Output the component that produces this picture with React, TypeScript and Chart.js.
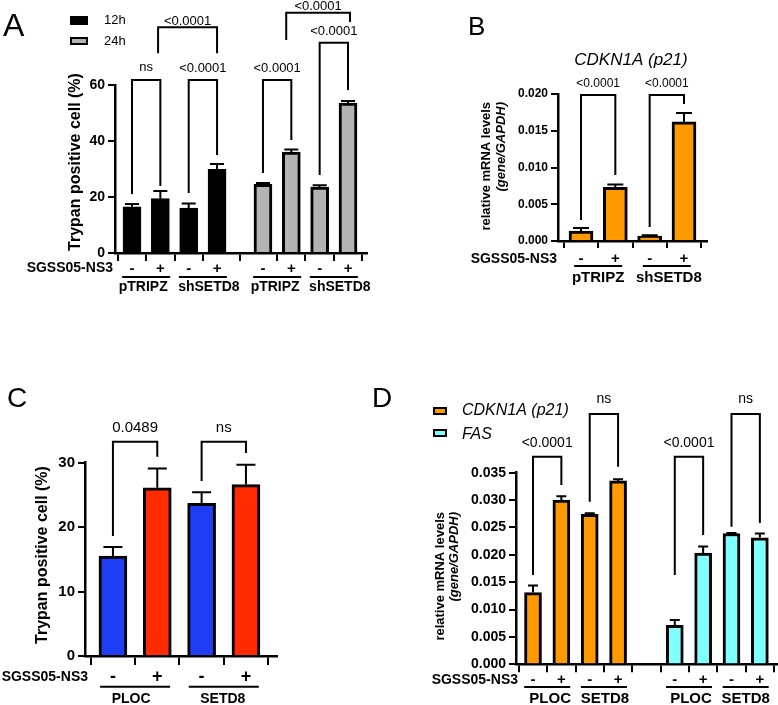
import React, { useEffect, useRef } from "react";
import { Chart, registerables } from "chart.js";

Chart.register(...registerables);

const SANS = "'Liberation Sans', Arial, Helvetica, sans-serif";
const font = (size: number, weight = "normal", style = "normal") => `${style} ${weight} ${size}px ${SANS}`;

const BLACK = "#000000";
const GREY = "#b3b3b3";
const ORANGE = "#ff9900";
const CYAN = "#80ffff";
const BLUE = "#1f3df2";
const RED = "#ff2a00";

// ---------- A: trypan blue positive cells, 12 h and 24 h ----------
const aSeriesNames = ["12h", "24h"];
const aGroupNames = ["pTRIPZ", "shSETD8", "pTRIPZ", "shSETD8"];
const aTreatment = ["-", "+", "-", "+", "-", "+", "-", "+"];
const a12hMean = [16.5, 19.4, 16.0, 29.9];
const a12hSem = [1.0, 2.7, 1.7, 1.9];
const a24hMean = [24.5, 36.0, 23.5, 53.5];
const a24hSem = [0.5, 1.0, 0.7, 0.8];
const aYTicks = [0, 20, 40, 60];
const aYTickLabels = ["0", "20", "40", "60"];
const aPValues = ["ns", "<0.0001", "<0.0001", "<0.0001", "<0.0001", "<0.0001"];

// ---------- B: CDKN1A (p21) mRNA ----------
const bGene = "CDKN1A (p21)";
const bGroupNames = ["pTRIPZ", "shSETD8"];
const bTreatment = ["-", "+", "-", "+"];
const bMean = [0.00136, 0.0073, 0.00068, 0.0162];
const bSem = [0.0004, 0.0004, 0.0001, 0.0012];
const bYTicks = [0, 0.005, 0.01, 0.015, 0.02];
const bYTickLabels = ["0.000", "0.005", "0.010", "0.015", "0.020"];
const bPValues = ["<0.0001", "<0.0001"];

// ---------- C: trypan blue positive cells, PLOC / SETD8 ----------
const cGroupNames = ["PLOC", "SETD8"];
const cTreatment = ["-", "+", "-", "+"];
const cMean = [15.5, 26.1, 23.7, 26.6];
const cSem = [1.4, 3.0, 1.7, 3.1];
const cYTicks = [0, 10, 20, 30];
const cYTickLabels = ["0", "10", "20", "30"];
const cPValues = ["0.0489", "ns"];

// ---------- D: CDKN1A (p21) and FAS mRNA ----------
const dSeriesNames = ["CDKN1A (p21)", "FAS"];
const dGroupNames = ["PLOC", "SETD8", "PLOC", "SETD8"];
const dTreatment = ["-", "+", "-", "+", "-", "+", "-", "+"];
const dCdkn1aMean = [0.0131, 0.03, 0.0274, 0.0335];
const dCdkn1aSem = [0.0013, 0.0007, 0.0002, 0.0003];
const dFasMean = [0.0071, 0.0203, 0.0239, 0.0231];
const dFasSem = [0.001, 0.0012, 0.0001, 0.0008];
const dYTicks = [0, 0.005, 0.01, 0.015, 0.02, 0.025, 0.03, 0.035];
const dYTickLabels = ["0.000", "0.005", "0.010", "0.015", "0.020", "0.025", "0.030", "0.035"];
const dPValues = ["<0.0001", "ns", "<0.0001", "ns"];

const AXIS_CAPTION = "SGSS05-NS3";
const Y_TRYPAN = "Trypan positive cell (%)";
const Y_MRNA = "relative mRNA levels";
const Y_MRNA_UNIT = "(gene/GAPDH)";

// ---------- drawing helpers ----------
function text(ctx: any, s: string, x: number, y: number, f: string, align = "center", baseline = "alphabetic") {
  ctx.save();
  ctx.fillStyle = BLACK;
  ctx.font = f;
  ctx.textAlign = align;
  ctx.textBaseline = baseline;
  ctx.fillText(s, x, y);
  ctx.restore();
}

function vtext(ctx: any, s: string, x: number, y: number, f: string, align = "center") {
  ctx.save();
  ctx.translate(x, y);
  ctx.rotate(-Math.PI / 2);
  ctx.fillStyle = BLACK;
  ctx.font = f;
  ctx.textAlign = align;
  ctx.textBaseline = "middle";
  ctx.fillText(s, 0, 0);
  ctx.restore();
}

function swatch(ctx: any, x: number, y: number, w: number, h: number, fill: string) {
  ctx.save();
  ctx.fillStyle = fill;
  ctx.fillRect(x, y, w, h);
  ctx.strokeStyle = BLACK;
  ctx.lineWidth = 2;
  ctx.strokeRect(x + 1, y + 1, w - 2, h - 2);
  ctx.restore();
}

type Row = {
  captionRight: number;
  y: number;
  captionFont: string;
  signFont: string;
  signs: string[];
  signSlots: number[];
  lineY: number;
  half: number;
  groups: number[][];
  names: string[];
  nameShift?: number[];
  groupY: number;
  groupFont: string;
};

function drawRow(ctx: any, px: (s: number) => number, row: Row) {
  text(ctx, AXIS_CAPTION, row.captionRight, row.y, row.captionFont, "right", "middle");
  row.signs.forEach((s, i) => text(ctx, s, px(row.signSlots[i]), row.y, row.signFont, "center", "middle"));
  ctx.save();
  ctx.strokeStyle = BLACK;
  ctx.lineWidth = 2;
  row.groups.forEach(([a, b], i) => {
    const c = (px(a) + px(b)) / 2;
    ctx.beginPath();
    ctx.moveTo(c - row.half, row.lineY);
    ctx.lineTo(c + row.half, row.lineY);
    ctx.stroke();
    const shift = row.nameShift ? row.nameShift[i] : 0;
    text(ctx, row.names[i], c + shift, row.groupY, row.groupFont, "center", "alphabetic");
  });
  ctx.restore();
}

type Bracket = { a: number; b: number; top: number; legA: number; legB: number; label: string; gap: number };

// ---------- panel specs ----------
const panelA = {
  box: { left: 0, top: 0, width: 390, height: 300 },
  area: { left: 115, top: 85, right: 367, bottom: 253 },
  slotPos: (s: number) => s + (s >= 3.5 ? 0.62 : 0),
  xMin: -0.6,
  xMax: 8.29,
  tickSlots: [0, 1, 2, 3, 4, 5, 6, 7],
  xTickLen: 8,
  yMax: 60,
  yTicks: aYTicks,
  yTickLabels: aYTickLabels,
  yTickFont: 14,
  barWidth: 18,
  capWidth: 14,
  series: [
    { name: aSeriesNames[0], slots: [0, 1, 2, 3], mean: a12hMean, err: a12hSem, fill: BLACK },
    { name: aSeriesNames[1], slots: [4, 5, 6, 7], mean: a24hMean, err: a24hSem, fill: GREY },
  ],
  bracketFont: font(13),
  brackets: [
    { a: 0, b: 1, top: 61.8, legA: 21.1, legB: 23.9, label: aPValues[0], gap: 9 },
    { a: 2, b: 3, top: 61.8, legA: 21.4, legB: 35.0, label: aPValues[1], gap: 8 },
    { a: 4, b: 5, top: 61.8, legA: 28.6, legB: 40.4, label: aPValues[2], gap: 8 },
    { a: 6, b: 7, top: 75.1, legA: 27.9, legB: 58.2, label: aPValues[3], gap: 8 },
    { a: 0.92, b: 3, top: 80.6, legA: 71.3, legB: 71.3, label: aPValues[4], gap: 2.5 },
    { a: 4.82, b: 7.07, top: 85.8, legA: 76.1, legB: 82.5, label: aPValues[5], gap: 3 },
  ] as Bracket[],
  decorate(ctx: any, px: (s: number) => number) {
    text(ctx, "A", 3, 36, font(32), "left");
    swatch(ctx, 70, 16, 18, 9, BLACK);
    swatch(ctx, 70, 37, 18, 8, GREY);
    text(ctx, aSeriesNames[0], 104, 20.5, font(13), "left", "middle");
    text(ctx, aSeriesNames[1], 104, 41.5, font(13), "left", "middle");
    vtext(ctx, Y_TRYPAN, 76, 162, font(16, "bold"));
    drawRow(ctx, px, {
      captionRight: 113, y: 268.5, captionFont: font(14, "bold"), signFont: font(15, "bold"),
      signs: aTreatment, signSlots: [0, 1, 2, 3, 4, 5, 6, 7],
      lineY: 277, half: 24, groups: [[0, 1], [2, 3], [4, 5], [6, 7]], names: aGroupNames,
      nameShift: [-3, 6, -2, 6],
      groupY: 291, groupFont: font(14, "bold"),
    });
  },
};

const panelB = {
  box: { left: 430, top: 0, width: 348, height: 300 },
  area: { left: 128, top: 94, right: 277, bottom: 241 },
  slotPos: (s: number) => s,
  xMin: -0.67,
  xMax: 3.67,
  tickSlots: [0, 1, 2, 3],
  xTickLen: 7,
  yMax: 0.02,
  yTicks: bYTicks,
  yTickLabels: bYTickLabels,
  yTickFont: 12,
  barWidth: 24,
  capWidth: 16,
  series: [{ name: bGene, slots: [0, 1, 2, 3], mean: bMean, err: bSem, fill: ORANGE }],
  bracketFont: font(12),
  brackets: [
    { a: 0, b: 1, top: 0.01986, legA: 0.00286, legB: 0.00898, label: bPValues[0], gap: 8 },
    { a: 2, b: 3, top: 0.01986, legA: 0.0019, legB: 0.01864, label: bPValues[1], gap: 8 },
  ] as Bracket[],
  decorate(ctx: any, px: (s: number) => number) {
    text(ctx, "B", 38, 35, font(26), "left");
    text(ctx, bGene, 201, 65, font(17, "normal", "italic"));
    vtext(ctx, Y_MRNA, 56, 102, font(13, "bold"), "right");
    vtext(ctx, Y_MRNA_UNIT, 71, 102, font(13, "bold", "italic"), "right");
    drawRow(ctx, px, {
      captionRight: 127, y: 259, captionFont: font(14, "bold"), signFont: font(15, "bold"),
      signs: bTreatment, signSlots: [0, 1, 2, 3],
      lineY: 266, half: 24, groups: [[0, 1], [2, 3]], names: bGroupNames,
      nameShift: [0, 2],
      groupY: 282, groupFont: font(15, "bold"),
    });
  },
};

const panelC = {
  box: { left: 0, top: 360, width: 390, height: 345 },
  area: { left: 85, top: 102.7, right: 277, bottom: 296 },
  slotPos: (s: number) => s,
  xMin: -0.63,
  xMax: 3.7,
  tickSlots: [0, 1, 2, 3],
  xTickLen: 9,
  yMax: 30,
  yTicks: cYTicks,
  yTickLabels: cYTickLabels,
  yTickFont: 15,
  barWidth: 28,
  capWidth: 19,
  series: [{ name: Y_TRYPAN, slots: [0, 1, 2, 3], mean: cMean, err: cSem, fill: [BLUE, RED, BLUE, RED] }],
  bracketFont: font(15),
  brackets: [
    { a: 0, b: 1, top: 33.26, legA: 18.62, legB: 30.93, label: cPValues[0], gap: 10 },
    { a: 2, b: 3, top: 33.26, legA: 27.16, legB: 31.5, label: cPValues[1], gap: 10 },
  ] as Bracket[],
  decorate(ctx: any, px: (s: number) => number) {
    text(ctx, "C", 7, 47, font(28), "left");
    vtext(ctx, Y_TRYPAN, 43, 195, font(16, "bold"));
    drawRow(ctx, px, {
      captionRight: 88, y: 317, captionFont: font(14, "bold"), signFont: font(18, "bold"),
      signs: cTreatment, signSlots: [0, 1, 2, 3],
      lineY: 326.7, half: 35, groups: [[0, 1], [2, 3]], names: cGroupNames,
      nameShift: [-4, -1],
      groupY: 343, groupFont: font(14, "bold"),
    });
  },
};

const panelD = {
  box: { left: 360, top: 360, width: 418, height: 345 },
  area: { left: 156, top: 112.7, right: 418, bottom: 304.3 },
  slotPos: (s: number) => s,
  xMin: -0.6,
  xMax: 8.64,
  tickSlots: [0, 1, 2, 3, 4, 5, 6, 7, 8],
  xTickLen: 8,
  yMax: 0.035,
  yTicks: dYTicks,
  yTickLabels: dYTickLabels,
  yTickFont: 14,
  barWidth: 17,
  capWidth: 10,
  series: [
    { name: dSeriesNames[0], slots: [0, 1, 2, 3], mean: dCdkn1aMean, err: dCdkn1aSem, fill: ORANGE },
    { name: dSeriesNames[1], slots: [5, 6, 7, 8], mean: dFasMean, err: dFasSem, fill: CYAN },
  ],
  bracketFont: font(14),
  brackets: [
    { a: 0, b: 1, top: 0.03793, legA: 0.01632, legB: 0.03276, label: dPValues[0], gap: 10 },
    { a: 2, b: 3, top: 0.04573, legA: 0.02971, legB: 0.0361, label: dPValues[1], gap: 11 },
    { a: 5, b: 6, top: 0.03793, legA: 0.01632, legB: 0.02362, label: dPValues[2], gap: 10 },
    { a: 7, b: 8, top: 0.04573, legA: 0.02514, legB: 0.02581, label: dPValues[3], gap: 11 },
  ] as Bracket[],
  decorate(ctx: any, px: (s: number) => number) {
    text(ctx, "D", 12, 47, font(28), "left");
    swatch(ctx, 73, 47, 14, 8, ORANGE);
    swatch(ctx, 73, 69, 14, 8, CYAN);
    text(ctx, dSeriesNames[0], 102, 50.5, font(16, "normal", "italic"), "left", "middle");
    text(ctx, dSeriesNames[1], 102, 75, font(16, "normal", "italic"), "left", "middle");
    vtext(ctx, Y_MRNA, 80, 152, font(13, "bold"), "right");
    vtext(ctx, Y_MRNA_UNIT, 94, 152, font(13, "bold", "italic"), "right");
    drawRow(ctx, px, {
      captionRight: 158, y: 320, captionFont: font(14, "bold"), signFont: font(15, "bold"),
      signs: dTreatment, signSlots: [0, 1, 2, 3, 5, 6, 7, 8],
      lineY: 327, half: 23, groups: [[0, 1], [2, 3], [5, 6], [7, 8]], names: dGroupNames,
      nameShift: [3, 1, 2, 0],
      groupY: 343, groupFont: font(15, "bold"),
    });
  },
};

function buildConfig(spec: any) {
  const { box, area } = spec;
  const marks = {
    id: "panelMarks",
    afterDatasetsDraw(chart: any) {
      const ctx = chart.ctx;
      const y = chart.scales.y;
      ctx.save();
      ctx.strokeStyle = BLACK;
      ctx.lineWidth = 2;
      spec.series.forEach((s: any, d: number) => {
        const meta = chart.getDatasetMeta(d);
        meta.data.forEach((el: any, i: number) => {
          const yv = y.getPixelForValue(s.mean[i]);
          const ye = y.getPixelForValue(s.mean[i] + s.err[i]);
          ctx.beginPath();
          ctx.moveTo(el.x, yv);
          ctx.lineTo(el.x, ye);
          ctx.moveTo(el.x - spec.capWidth / 2, ye);
          ctx.lineTo(el.x + spec.capWidth / 2, ye);
          ctx.stroke();
        });
      });
      ctx.restore();
    },
    afterDraw(chart: any) {
      const ctx = chart.ctx;
      const px = (s: number) => chart.scales.x.getPixelForValue(spec.slotPos(s));
      const py = (v: number) => chart.scales.y.getPixelForValue(v);
      ctx.save();
      ctx.strokeStyle = BLACK;
      ctx.lineWidth = 2;
      ctx.lineJoin = "miter";
      spec.brackets.forEach((br: Bracket) => {
        const x1 = px(br.a);
        const x2 = px(br.b);
        const yt = py(br.top);
        ctx.beginPath();
        ctx.moveTo(x1, py(br.legA));
        ctx.lineTo(x1, yt);
        ctx.lineTo(x2, yt);
        ctx.lineTo(x2, py(br.legB));
        ctx.stroke();
        text(ctx, br.label, (x1 + x2) / 2, yt - br.gap, spec.bracketFont);
      });
      ctx.restore();
      spec.decorate(ctx, px);
    },
  };

  return {
    type: "bar",
    data: {
      datasets: spec.series.map((s: any) => ({
        label: s.name,
        data: s.mean.map((v: number, i: number) => ({ x: spec.slotPos(s.slots[i]), y: v })),
        backgroundColor: s.fill,
        borderColor: BLACK,
        borderWidth: 3,
        borderSkipped: "start",
        barThickness: spec.barWidth,
        grouped: false,
      })),
    },
    options: {
      responsive: false,
      animation: false,
      devicePixelRatio: 1,
      events: [],
      layout: { padding: { left: 0, top: area.top, right: box.width - area.right, bottom: 0 } },
      plugins: { legend: { display: false }, tooltip: { enabled: false }, title: { display: false } },
      scales: {
        x: {
          type: "linear",
          min: spec.xMin,
          max: spec.xMax,
          offset: false,
          afterBuildTicks: (s: any) => {
            s.ticks = spec.tickSlots.map((t: number) => ({ value: spec.slotPos(t) }));
          },
          afterFit: (s: any) => {
            s.height = box.height - area.bottom;
          },
          ticks: { display: false },
          grid: { display: true, drawOnChartArea: false, drawTicks: true, tickLength: spec.xTickLen, color: BLACK, lineWidth: 2 },
          border: { display: true, color: BLACK, width: 2.5 },
        },
        y: {
          type: "linear",
          min: 0,
          max: spec.yMax,
          afterBuildTicks: (s: any) => {
            s.ticks = spec.yTicks.map((v: number) => ({ value: v }));
          },
          afterFit: (s: any) => {
            s.width = area.left;
          },
          ticks: {
            callback: (_v: any, i: number) => spec.yTickLabels[i],
            font: { family: SANS, size: spec.yTickFont, weight: "bold" },
            color: BLACK,
            padding: 3,
          },
          grid: { display: true, drawOnChartArea: false, drawTicks: true, tickLength: 7, color: BLACK, lineWidth: 2 },
          border: { display: true, color: BLACK, width: 2.5 },
        },
      },
    },
    plugins: [marks],
  };
}

function Panel({ spec }: { spec: any }) {
  const ref = useRef<HTMLCanvasElement | null>(null);
  useEffect(() => {
    const chart = new Chart(ref.current as HTMLCanvasElement, buildConfig(spec) as any);
    return () => chart.destroy();
  }, [spec]);
  const { box } = spec;
  return (
    <canvas
      ref={ref}
      width={box.width}
      height={box.height}
      style={{ position: "absolute", left: box.left, top: box.top, width: box.width, height: box.height }}
    />
  );
}

export default function App() {
  useEffect(() => {
    document.body.style.margin = "0";
  }, []);
  return (
    <div style={{ position: "relative", width: 778, height: 705, background: "#ffffff", overflow: "hidden" }}>
      <Panel spec={panelA} />
      <Panel spec={panelB} />
      <Panel spec={panelC} />
      <Panel spec={panelD} />
    </div>
  );
}
